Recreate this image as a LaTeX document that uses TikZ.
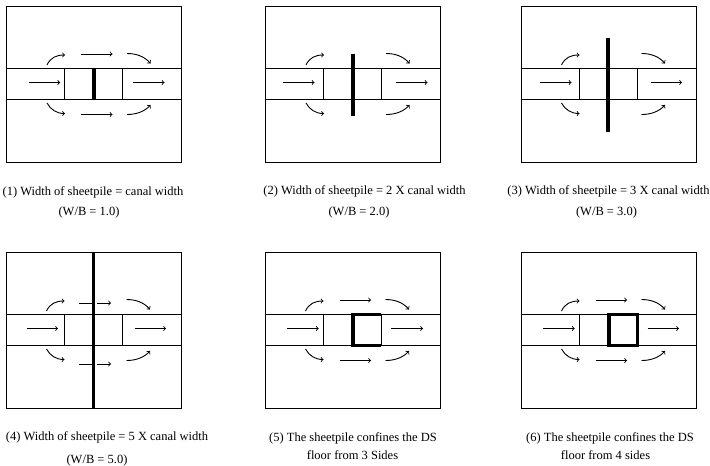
\documentclass[tikz,border=0pt]{standalone}
\usepackage{fontspec}
\setmainfont{Liberation Serif}
\tikzset{
	wall/.style={line width=0.9pt},
	flow/.style={line width=0.9pt,->},
	pile/.style={line width=3.2pt},
	caption/.style={font=\fontsize{12.5}{14}\selectfont,inner sep=0pt,anchor=base}
}
% frame, canal, left gate and the four curved flows of one panel
\newcommand{\canalframe}{
	\draw [wall] (0,0) rectangle (175,156);
	\draw [wall] (0,62) -- (175,62);
	\draw [wall] (0,93) -- (175,93);
	\draw [wall] (58,62) -- (58,93);
	\draw [flow] (40.5,58.5) .. controls (44,51) and (50,48.5) .. (58.5,48.5);
	\draw [flow] (120.5,47) .. controls (130,47) and (138,50) .. (144,57);
	\draw [flow] (40.5,96.5) .. controls (44,103) and (50,107) .. (58.5,107);
	\draw [flow] (120.5,108) .. controls (130,108) and (138,105) .. (144,98.5);
}
\begin{document}
\begin{tikzpicture}[x=1pt,y=-1pt]
	\useasboundingbox (0,0) rectangle (710,466);

	% panel 1
	\begin{scope}[shift={(6.5,6.5)}]
		\canalframe
		\draw [wall] (116,62) -- (116,93);
		\draw [pile] (87.5,62) -- (87.5,93);
		\draw [flow] (22,76) -- (53.7,76);
		\draw [flow] (126.5,76) -- (158,76);
		\draw [flow] (74.5,47.5) -- (106,47.5);
		\draw [flow] (74.5,108) -- (106,108);
	\end{scope}
	\node [caption] (capa) at (93,195) {(1) Width of sheetpile = canal width};
	\node [caption] (capb) at (89,215) {(W/B = 1.0)};

	% panel 2
	\begin{scope}[shift={(265.5,6.5)}]
		\canalframe
		\draw [wall] (116,62) -- (116,93);
		\draw [pile] (87.5,47) -- (87.5,109.5);
		\draw [flow] (17.5,76) -- (49,76);
		\draw [flow] (130.5,76) -- (162,76);
	\end{scope}
	\node [caption] (capc) at (364.5,194) {(2) Width of sheetpile = 2 X canal width};
	\node [caption] (capd) at (359,215) {(W/B = 2.0)};

	% panel 3
	\begin{scope}[shift={(521,6.5)}]
		\canalframe
		\draw [wall] (116,62) -- (116,93);
		\draw [pile] (87,31) -- (87,125);
		\draw [flow] (19,76) -- (50.5,76);
		\draw [flow] (130,76) -- (161,76);
	\end{scope}
	\node [caption] (cape) at (608.5,194) {(3) Width of sheetpile = 3 X canal width};
	\node [caption] (capf) at (606.5,215) {(W/B = 3.0)};

	% panel 4
	\begin{scope}[shift={(6,252.5)}]
		\canalframe
		\draw [wall] (116,62) -- (116,93);
		\draw [pile] (87.5,0) -- (87.5,156);
		\draw [flow] (20.5,76) -- (52,76);
		\draw [flow] (128.5,76) -- (160,76);
		% the pile cuts the two straight flows
		\draw [wall] (73,50.5) -- (85.5,50.5);
		\draw [flow] (91,50.5) -- (105,50.5);
		\draw [wall] (73,111.5) -- (85.5,111.5);
		\draw [flow] (91,111.5) -- (105,111.5);
	\end{scope}
	\node [caption] (capg) at (107,440.5) {(4) Width of sheetpile = 5 X canal width};
	\node [caption] (caph) at (97,463) {(W/B = 5.0)};

	% panel 5
	\begin{scope}[shift={(265,252.5)}]
		\canalframe
		\draw [wall] (116,62) -- (116,93);
		\draw [pile,line join=miter] (116,62) -- (88,62) -- (88,93) -- (116,93);
		\draw [flow] (22,76) -- (53.7,76);
		\draw [flow] (126,76) -- (158,76);
		\draw [flow] (74.5,47.5) -- (106,47.5);
		\draw [flow] (74.5,108) -- (106,108);
	\end{scope}
	\node [caption] (capi) at (353,441) {(5) The sheetpile confines the DS};
	\node [caption] (capj) at (352.5,459) {floor from 3 Sides};

	% panel 6
	\begin{scope}[shift={(521,252.5)}]
		\canalframe
		\draw [pile] (88,62) rectangle (116.5,93);
		\draw [flow] (22,76) -- (53.7,76);
		\draw [flow] (126.5,76) -- (158,76);
		\draw [flow] (74.5,47.5) -- (106,47.5);
		\draw [flow] (74.5,108) -- (106,108);
	\end{scope}
	\node [caption] (capk) at (610,441) {(6) The sheetpile confines the DS};
	\node [caption] (capl) at (605.5,459) {floor from 4 sides};
\end{tikzpicture}
\end{document}
